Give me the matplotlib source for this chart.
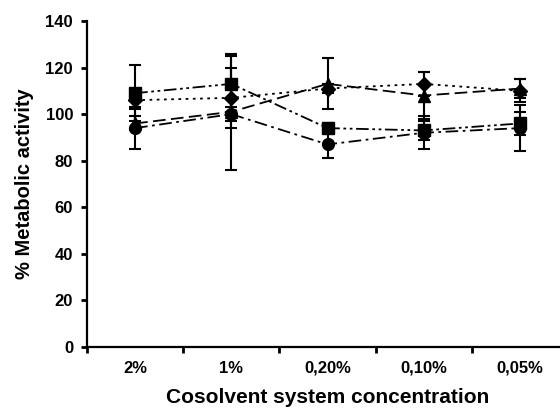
import matplotlib
matplotlib.use("Agg")
import matplotlib.pyplot as plt
import numpy as np

categories = ["2%", "1%", "0,20%", "0,10%", "0,05%"]

square_vals = [109, 113, 94, 93, 96]
square_err = [12, 12, 2, 4, 5]
diamond_vals = [106, 107, 111, 113, 110]
diamond_err = [4, 13, 2, 5, 5]
triangle_vals = [96, 101, 113, 108, 111]
triangle_err = [3, 25, 11, 10, 4]
circle_vals = [94, 100, 87, 92, 94]
circle_err = [9, 3, 6, 7, 10]

plt.rcParams['font.family'] = ['Liberation Sans', 'DejaVu Sans']

fig = plt.figure(figsize=(5.6, 4.08), dpi=100)
ax = fig.add_axes([87/560, 1-347/408, (568-87)/560, (347-21)/408])

x = np.arange(1, len(categories) + 1)

series = [
    (square_vals, square_err, 's', (0, (7, 2, 1.5, 2, 1.5, 2))),
    (diamond_vals, diamond_err, 'D', (0, (1.5, 2.5))),
    (triangle_vals, triangle_err, '^', (0, (7, 3))),
    (circle_vals, circle_err, 'o', (0, (7, 2.5, 1.5, 2.5))),
]
for vals, err, mk, ls in series:
    ms = 7 if mk == 'D' else 8.5
    ax.errorbar(x, vals, yerr=err, color='black', marker=mk, markersize=ms,
                linestyle=ls, linewidth=1.3, elinewidth=1.5, capsize=4.5,
                capthick=1.5, markeredgecolor='black', markerfacecolor='black')

ax.set_xlim(0.5, 5.5)
ax.set_ylim(0, 140)
ax.set_yticks(np.arange(0, 141, 20))
ax.set_xticks(np.arange(0.5, 5.6, 1.0))
ax.set_xticklabels([])
ax.set_xticks(x, minor=True)
ax.set_xticklabels(categories, minor=True)
ax.tick_params(axis='x', which='minor', length=0, pad=10, labelsize=12)
ax.tick_params(axis='x', which='major', length=4, width=2, direction='out')
ax.tick_params(axis='y', length=4, width=2, direction='out', labelsize=12, pad=6)
for lab in ax.get_xticklabels(minor=True) + ax.get_yticklabels():
    lab.set_fontweight('bold')

for s in ['top', 'right']:
    ax.spines[s].set_visible(False)
for s in ['left', 'bottom']:
    ax.spines[s].set_linewidth(1.6)

ax.set_xlabel("Cosolvent system concentration", fontsize=15, fontweight='bold', labelpad=9)
ax.set_ylabel("% Metabolic activity", fontsize=14.5, fontweight='bold', labelpad=8)

fig.savefig("out.png", dpi=100)
